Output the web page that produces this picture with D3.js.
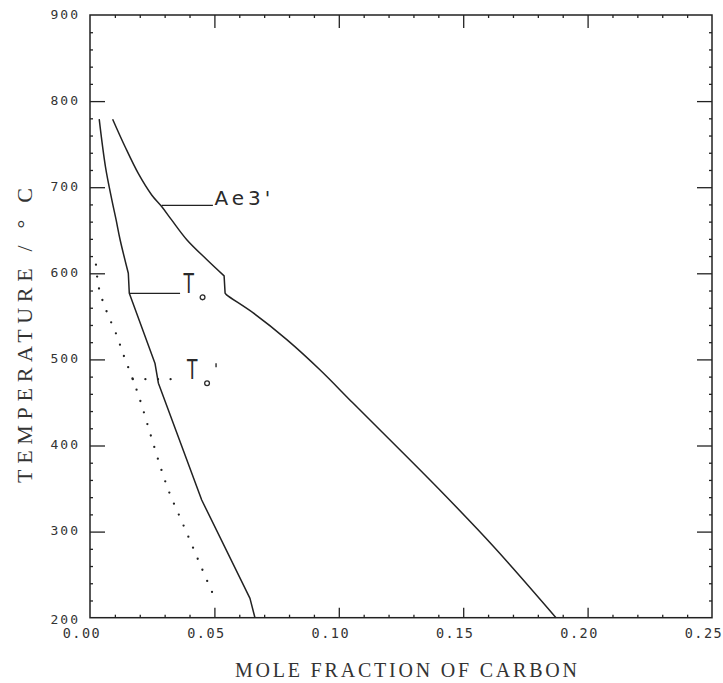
<!DOCTYPE html>
<html>
<head>
<meta charset="utf-8">
<script src="https://cdn.jsdelivr.net/npm/d3@7"></script>
<style>
  html, body { margin: 0; padding: 0; background: #fff; }
  svg { display: block; }
</style>
</head>
<body>
<script>
// ---- data ----
const xTicks = [0, 0.05, 0.10, 0.15, 0.20, 0.25];
const xTickLabels = ["0.00", "0.05", "0.10", "0.15", "0.20", "0.25"];
const yTicks = [200, 300, 400, 500, 600, 700, 800, 900];
const yTickLabels = ["200", "300", "400", "500", "600", "700", "800", "900"];

// Ae3' boundary (step between index 8 and 9)
const ae3X = [0.0091, 0.0141, 0.0194, 0.0248, 0.0288, 0.0328, 0.0389, 0.0469, 0.0539, 0.0543, 0.0549, 0.0656, 0.0791, 0.0924, 0.1058, 0.1407, 0.1621, 0.1873];
const ae3T = [779, 747, 716, 691, 677.5, 662, 639, 616, 597, 577, 575, 554, 523, 488, 449, 348, 283, 200];
const ae3Breaks = [8, 9];

// T0 (step between index 5 and 6; lower branch piecewise straight)
const t0X = [0.0037, 0.0062, 0.0088, 0.0105, 0.0121, 0.0154, 0.0158, 0.0261, 0.0275, 0.0449, 0.0643, 0.0663];
const t0T = [779, 724, 685, 662, 639, 600, 576.7, 495.6, 472.3, 336.7, 222.5, 200];
const t0Breaks = [5, 6];

// T0' (dotted)
const t0pX = [0.0024, 0.0036, 0.0067, 0.0105, 0.0138, 0.0172, 0.0204, 0.0245, 0.0288, 0.0320, 0.0358, 0.0397, 0.0435, 0.0474, 0.0493];
const t0pT = [610, 582.6, 555.5, 529.6, 502.5, 477, 450.3, 411, 370.8, 344.5, 319, 293, 267, 240.7, 228.3];

// label leaders: [x0, x1, T]
const ae3Leader = [0.0288, 0.0494, 679];
const t0Leader = [0.0158, 0.0362, 576.7];
const t0pLeader = [0.0172, 0.0374, 477];

// ---- layout ----
const W = 723, H = 683;
const L = 90, R = 712, T = 15, B = 617.7;
const ink = "#222";

const svg = d3.select("body").append("svg").attr("width", W).attr("height", H);

const x = d3.scaleLinear().domain([0, 0.25]).range([L, R]);
const y = d3.scaleLinear().domain([200, 900]).range([B, T]);

// frame
svg.append("rect").attr("x", L).attr("y", T).attr("width", R - L).attr("height", B - T)
  .attr("fill", "none").attr("stroke", ink).attr("stroke-width", 1.5);

// axes (ticks inward)
const xMinor = d3.range(1, 25).map(i => i / 100).filter(v => Math.abs(v * 20 - Math.round(v * 20)) > 1e-6);
const yMinor = d3.range(220, 900, 20).filter(v => v % 100 !== 0);
const xMajorInner = xTicks.slice(1, -1);
const yMajorInner = yTicks.slice(1, -1);

function tickAxis(axisFn, scale, vals, size, tx, ty) {
  svg.append("g").attr("transform", `translate(${tx},${ty})`)
    .call(axisFn(scale).tickValues(vals).tickSizeInner(size).tickSizeOuter(0).tickFormat(""))
    .call(g => g.select(".domain").remove())
    .call(g => g.selectAll("line").attr("stroke", ink).attr("stroke-width", 1.3));
}
tickAxis(d3.axisBottom, x, xMajorInner, -10, 0, B);
tickAxis(d3.axisBottom, x, xMinor, -3, 0, B);
tickAxis(d3.axisTop, x, xMajorInner, -13, 0, T);
tickAxis(d3.axisTop, x, xMinor, -3, 0, T);
tickAxis(d3.axisLeft, y, yMajorInner, -15, L, 0);
tickAxis(d3.axisLeft, y, yMinor, -3, L, 0);
tickAxis(d3.axisRight, y, yMajorInner, -15, R, 0);
tickAxis(d3.axisRight, y, yMinor, -3, R, 0);

// tick labels
const tickFont = "'DejaVu Sans Mono', monospace";
svg.append("g").selectAll("text").data(xTicks).join("text")
  .attr("x", d => x(d) - 8).attr("y", 634)
  .attr("text-anchor", "middle").attr("dominant-baseline", "middle")
  .attr("font-family", tickFont).attr("font-size", 13.5).attr("letter-spacing", 1.5)
  .attr("fill", "#333")
  .text((d, i) => xTickLabels[i]);

svg.append("g").selectAll("text").data(yTicks).join("text")
  .attr("x", 80).attr("y", d => y(d) + (d === 200 ? 3 : 0))
  .attr("text-anchor", "end").attr("dominant-baseline", "middle")
  .attr("font-family", tickFont).attr("font-size", 13).attr("letter-spacing", 2)
  .attr("fill", "#333")
  .text((d, i) => yTickLabels[i]);

// axis titles
svg.append("text").attr("x", 406).attr("y", 677).attr("text-anchor", "middle")
  .attr("font-family", "'Liberation Serif', serif").attr("font-size", 20)
  .attr("textLength", 342).attr("lengthAdjust", "spacing")
  .attr("fill", "#333").text("MOLE FRACTION OF CARBON");

svg.append("text").attr("transform", "translate(32,335.5) rotate(-90)").attr("text-anchor", "middle")
  .attr("font-family", "'Liberation Serif', serif").attr("font-size", 22)
  .attr("textLength", 295).attr("lengthAdjust", "spacing")
  .attr("fill", "#333").text("TEMPERATURE / ° C");

// curves
const zipped = (xs, ts) => xs.map((v, i) => [v, ts[i]]);
const smooth = d3.curveCatmullRom.alpha(0.5);
// join segments: [0..b0] curveA, [b0..b1] step (linear), [b1..end] curveB
function segmented(xs, ts, breaks, curveA, curveB) {
  const pts = zipped(xs, ts);
  const parts = [
    [pts.slice(0, breaks[0] + 1), curveA],
    [pts.slice(breaks[0], breaks[1] + 1), d3.curveLinear],
    [pts.slice(breaks[1]), curveB]
  ];
  return parts.map(([seg, c], k) => {
    const s = d3.line().x(p => x(p[0])).y(p => y(p[1])).curve(c)(seg);
    return k === 0 ? s : s.replace(/^M[^LC]*/, "");
  }).join("");
}

svg.append("path").attr("d", segmented(ae3X, ae3T, ae3Breaks, smooth, smooth))
  .attr("fill", "none").attr("stroke", ink).attr("stroke-width", 1.5).attr("stroke-linejoin", "round");

svg.append("path").attr("d", segmented(t0X, t0T, t0Breaks, smooth, d3.curveLinear))
  .attr("fill", "none").attr("stroke", ink).attr("stroke-width", 1.5).attr("stroke-linejoin", "round");

svg.append("path").attr("d", d3.line().x(p => x(p[0])).y(p => y(p[1])).curve(smooth)(zipped(t0pX, t0pT)))
  .attr("fill", "none").attr("stroke", ink).attr("stroke-width", 2.3)
  .attr("stroke-linecap", "round").attr("stroke-dasharray", "0 12");

// leaders
function leader(l, dotted) {
  const p = svg.append("line").attr("x1", x(l[0])).attr("x2", x(l[1]))
    .attr("y1", y(l[2])).attr("y2", y(l[2])).attr("stroke", ink);
  if (dotted) p.attr("stroke-width", 2.3).attr("stroke-linecap", "round").attr("stroke-dasharray", "0 12.6");
  else p.attr("stroke-width", 1.3);
}
leader(ae3Leader, false);
leader(t0Leader, false);
leader(t0pLeader, true);

// labels
const lblFont = "'DejaVu Sans', sans-serif";
svg.append("text").attr("x", x(ae3Leader[1]) + 1.5).attr("y", y(ae3Leader[2]))
  .attr("font-family", lblFont).attr("font-size", 20).attr("letter-spacing", 4)
  .attr("fill", "#2a2a2a").text("Ae3'");

function tLabel(lx, ly, prime, cx) {
  const g = svg.append("g").attr("transform", `translate(${lx},${ly})`);
  g.append("text").attr("transform", "scale(0.9,1.4)")
    .attr("font-family", lblFont).attr("font-size", 19).attr("fill", "#2a2a2a").text("T");
  g.append("circle").attr("cx", cx).attr("cy", 4).attr("r", 2.4)
    .attr("fill", "none").attr("stroke", "#2a2a2a").attr("stroke-width", 1.3);
  if (prime) g.append("line").attr("x1", 29).attr("x2", 29).attr("y1", -16).attr("y2", -12)
    .attr("stroke", "#2a2a2a").attr("stroke-width", 1.4);
}
tLabel(x(t0Leader[1]) + 3.5, y(t0Leader[2]), false, 19);
tLabel(x(t0pLeader[1]) + 4, y(t0pLeader[2]), true, 20);
</script>
</body>
</html>
